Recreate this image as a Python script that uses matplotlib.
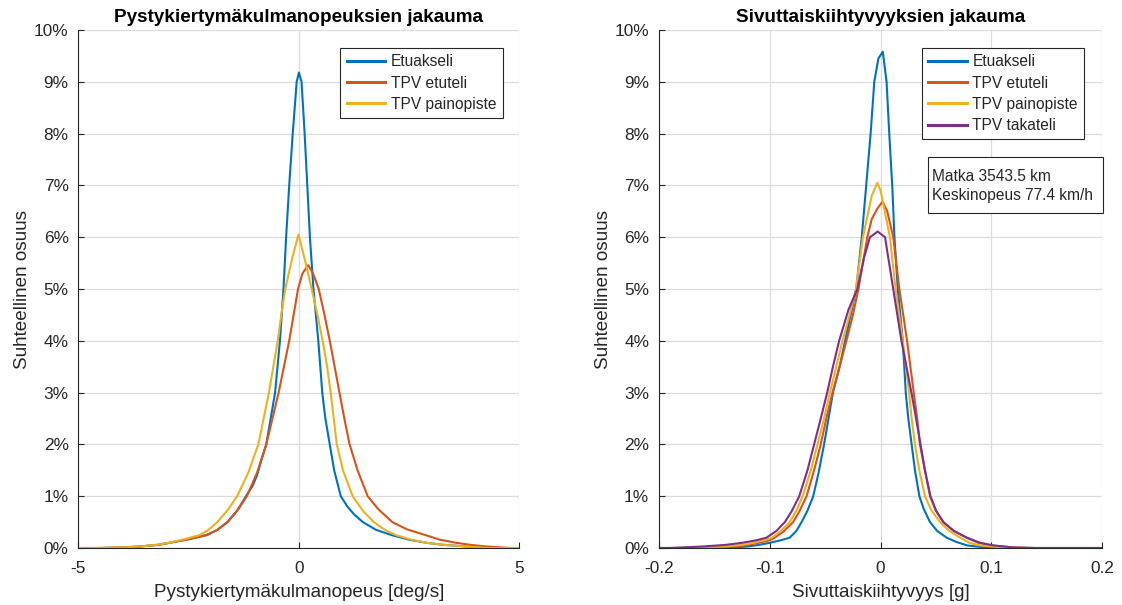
import matplotlib
matplotlib.use("Agg")
import matplotlib.pyplot as plt
from matplotlib.patches import Rectangle

plt.rcParams['font.family'] = ['Liberation Sans', 'DejaVu Sans']

# --- yaw rate distribution [deg/s] vs. share [%] ---
yaw_front_x = [-5, -4.5, -4.0, -3.6, -3.2, -2.93, -2.5, -2.1, -1.85, -1.62, -1.4, -1.2,
               -1.05, -0.95, -0.85, -0.74, -0.64, -0.54, -0.43, -0.35, -0.29, -0.22, -0.14,
               -0.05, 0.0, 0.06, 0.13, 0.19, 0.25, 0.33, 0.44, 0.53, 0.6, 0.70, 0.8, 0.95,
               1.1, 1.25, 1.45, 1.75, 2.1, 2.5, 2.9, 3.3, 3.8, 4.3, 5]
yaw_front_y = [0, 0, 0.01, 0.03, 0.06, 0.1, 0.17, 0.25, 0.35, 0.5, 0.72, 1.0,
               1.2, 1.4, 1.7, 2.0, 2.5, 3.0, 4.0, 5.0, 6.0, 7.0, 8.0,
               9.0, 9.18, 9.0, 8.0, 7.0, 6.0, 5.0, 4.0, 3.0, 2.5, 2.0, 1.5, 1.0,
               0.8, 0.65, 0.5, 0.35, 0.25, 0.16, 0.1, 0.06, 0.03, 0, 0]

yaw_bogie_x = [-5, -4.6, -4.0, -3.6, -3.2, -2.95, -2.5, -2.08, -1.85, -1.62, -1.4, -1.18,
               -0.95, -0.74, -0.6, -0.46, -0.34, -0.22, -0.12, -0.02, 0.08, 0.21, 0.32,
               0.45, 0.58, 0.70, 0.81, 0.92, 1.03, 1.15, 1.33, 1.56, 1.8, 2.12, 2.45, 2.87,
               3.2, 3.57, 3.9, 4.25, 4.8, 5]
yaw_bogie_y = [0, 0, 0.01, 0.03, 0.06, 0.1, 0.17, 0.25, 0.35, 0.5, 0.72, 1.0,
               1.45, 2.0, 2.5, 3.0, 3.5, 4.0, 4.5, 5.0, 5.3, 5.46, 5.3,
               5.0, 4.5, 4.0, 3.5, 3.0, 2.5, 2.0, 1.5, 1.0, 0.75, 0.5, 0.36, 0.25,
               0.16, 0.1, 0.06, 0.03, 0, 0]

yaw_cog_x = [-5, -4.6, -4.0, -3.6, -3.25, -2.95, -2.6, -2.25, -2.05, -1.85, -1.6, -1.4,
             -1.15, -0.92, -0.8, -0.68, -0.58, -0.48, -0.4, -0.31, -0.15, -0.01, 0.14,
             0.29, 0.42, 0.54, 0.64, 0.72, 0.79, 0.86, 1.0, 1.22, 1.45, 1.7, 1.95, 2.2,
             2.55, 2.9, 3.3, 3.8, 4.3, 5]
yaw_cog_y = [0, 0, 0.01, 0.03, 0.06, 0.1, 0.17, 0.25, 0.35, 0.5, 0.75, 1.0,
             1.45, 2.0, 2.5, 3.0, 3.5, 4.0, 4.5, 5.0, 5.6, 6.05, 5.55,
             5.0, 4.5, 4.0, 3.5, 3.0, 2.5, 2.0, 1.5, 1.0, 0.72, 0.5, 0.35, 0.25,
             0.16, 0.1, 0.06, 0.03, 0, 0]

# --- lateral acceleration distribution [g] vs. share [%] ---
lat_front_x = [-0.2, -0.16, -0.13, -0.12, -0.11, -0.10, -0.09, -0.082, -0.076, -0.0713,
               -0.066, -0.0608, -0.056, -0.051, -0.047, -0.043, -0.037, -0.032, -0.027,
               -0.022, -0.017, -0.013, -0.009, -0.0057, -0.002, 0.002, 0.0054, 0.0078,
               0.0105, 0.0125, 0.0155, 0.020, 0.0227, 0.025, 0.028, 0.031, 0.035, 0.039,
               0.0446, 0.051, 0.0596, 0.068, 0.078, 0.095, 0.12, 0.2]
lat_front_y = [0, 0, 0.015, 0.03, 0.06, 0.1, 0.15, 0.2, 0.33, 0.5,
               0.72, 1.0, 1.45, 2.0, 2.5, 3.0, 3.5, 4.0, 4.5,
               5.0, 6.0, 7.0, 8.0, 9.0, 9.45, 9.58, 9.0, 8.0,
               7.0, 6.0, 5.0, 4.0, 3.0, 2.5, 2.0, 1.5, 1.0, 0.75,
               0.5, 0.33, 0.2, 0.12, 0.05, 0.01, 0, 0]

lat_bogie_x = [-0.2, -0.17, -0.14, -0.13, -0.12, -0.11, -0.10, -0.0954, -0.087, -0.0789,
               -0.073, -0.0668, -0.06, -0.054, -0.049, -0.0434, -0.037, -0.0308, -0.025,
               -0.020, -0.012, -0.008, -0.003, 0.0018, 0.006, 0.0114, 0.0169, 0.0239,
               0.0299, 0.033, 0.0355, 0.04, 0.0446, 0.05, 0.0566, 0.066, 0.0777, 0.088,
               0.10, 0.12, 0.14, 0.2]
lat_bogie_y = [0, 0, 0.02, 0.03, 0.06, 0.1, 0.15, 0.2, 0.33, 0.5,
               0.72, 1.0, 1.5, 2.0, 2.5, 3.0, 3.5, 4.0, 4.5,
               5.0, 6.0, 6.35, 6.55, 6.69, 6.5, 6.0, 5.0, 4.0,
               3.0, 2.5, 2.0, 1.5, 1.0, 0.72, 0.5, 0.33, 0.2, 0.1,
               0.05, 0.01, 0, 0]

lat_cog_x = [-0.2, -0.18, -0.15, -0.14, -0.125, -0.115, -0.105, -0.098, -0.09, -0.082,
             -0.076, -0.0704, -0.063, -0.057, -0.051, -0.0458, -0.040, -0.0344, -0.028,
             -0.0223, -0.016, -0.008, -0.003, 0.0, 0.0084, 0.0135, 0.020, 0.0257, 0.028,
             0.031, 0.035, 0.040, 0.046, 0.0536, 0.062, 0.0717, 0.08, 0.0897, 0.11, 0.13, 0.2]
lat_cog_y = [0, 0, 0.02, 0.03, 0.06, 0.1, 0.15, 0.2, 0.33, 0.5,
             0.72, 1.0, 1.5, 2.0, 2.5, 3.0, 3.5, 4.0, 4.5,
             5.0, 6.0, 6.8, 7.05, 6.9, 6.0, 5.0, 4.0, 3.0, 2.5,
             2.0, 1.5, 1.0, 0.72, 0.5, 0.33, 0.2, 0.1, 0.05, 0.01, 0, 0]

lat_rear_x = [-0.2, -0.19, -0.17, -0.16, -0.14, -0.125, -0.112, -0.103, -0.094, -0.0864,
              -0.08, -0.0734, -0.066, -0.060, -0.054, -0.0482, -0.043, -0.0374, -0.029,
              -0.021, -0.015, -0.0096, -0.0027, 0.004, 0.0114, 0.0188, 0.0278, 0.032,
              0.036, 0.040, 0.045, 0.05, 0.0566, 0.066, 0.0777, 0.09, 0.1017, 0.12, 0.14, 0.2]
lat_rear_y = [0, 0, 0.02, 0.03, 0.06, 0.1, 0.15, 0.2, 0.33, 0.5,
              0.72, 1.0, 1.5, 2.0, 2.5, 3.0, 3.5, 4.0, 4.6,
              5.0, 5.6, 6.0, 6.11, 6.0, 5.0, 4.0, 3.0, 2.5,
              2.0, 1.5, 1.0, 0.72, 0.5, 0.33, 0.2, 0.1, 0.05, 0.01, 0, 0]

labels = ['Etuakseli', 'TPV etuteli', 'TPV painopiste', 'TPV takateli']
colors = ['#0072BD', '#D95319', '#EDB120', '#7E2F8E']
y_ticks = list(range(0, 11))
info_lines = ['Matka 3543.5 km', 'Keskinopeus 77.4 km/h']

TXT = '#262626'


def style_axes(ax, xlim, xticks, xticklabels):
    ax.set_xlim(*xlim)
    ax.set_ylim(0, 10)
    ax.set_xticks(xticks)
    ax.set_xticklabels(xticklabels)
    ax.set_yticks(y_ticks)
    ax.set_yticklabels([f'{v}%' for v in y_ticks])
    ax.grid(True, color='#dcdcdc', lw=0.9)
    ax.set_axisbelow(True)
    for side in ('top', 'right'):
        ax.spines[side].set_visible(False)
    for side in ('left', 'bottom'):
        ax.spines[side].set_color(TXT)
        ax.spines[side].set_linewidth(0.8)
        ax.spines[side].set_zorder(5)
    ax.tick_params(direction='in', length=4, width=0.8, color=TXT,
                   labelcolor=TXT, labelsize=12.4)
    ax.tick_params(axis='x', pad=9)
    ax.tick_params(axis='y', pad=7)
    ax.set_ylabel('Suhteellinen osuus', fontsize=13.6, color=TXT, labelpad=2)


def add_legend(ax, n, loc, anchor):
    leg = ax.legend(labels[:n], loc=loc, bbox_to_anchor=anchor,
                    fontsize=11.2, handlelength=2.5, handletextpad=0.35,
                    labelspacing=0.4, borderpad=0.4, borderaxespad=0,
                    frameon=True, fancybox=False, framealpha=1)
    leg.get_frame().set_edgecolor(TXT)
    leg.get_frame().set_linewidth(0.8)
    for t in leg.get_texts():
        t.set_color(TXT)
    for h in leg.get_lines():
        h.set_linewidth(2.2)


fig = plt.figure(figsize=(11.22, 6.05), dpi=100)
ax1 = fig.add_axes([0.0699, 0.0942, 0.3930, 0.8562])
ax2 = fig.add_axes([0.5873, 0.0942, 0.3951, 0.8562])

# Left: yaw rate
for xs, ys, c in zip([yaw_front_x, yaw_bogie_x, yaw_cog_x],
                     [yaw_front_y, yaw_bogie_y, yaw_cog_y], colors):
    ax1.plot(xs, ys, color=c, lw=1.5)
style_axes(ax1, (-5, 5), [-5, 0, 5], ['-5', '0', '5'])
ax1.set_title('Pystykiertymäkulmanopeuksien jakauma', fontsize=13.6,
              fontweight='bold', color='black', pad=6)
ax1.set_xlabel('Pystykiertymäkulmanopeus [deg/s]', fontsize=13.6, color=TXT, labelpad=6)
add_legend(ax1, 3, 'upper right', (0.962, 0.965))

# Right: lateral acceleration
for xs, ys, c in zip([lat_front_x, lat_bogie_x, lat_cog_x, lat_rear_x],
                     [lat_front_y, lat_bogie_y, lat_cog_y, lat_rear_y], colors):
    ax2.plot(xs, ys, color=c, lw=1.5)
style_axes(ax2, (-0.2, 0.2), [-0.2, -0.1, 0, 0.1, 0.2], ['-0.2', '-0.1', '0', '0.1', '0.2'])
ax2.set_title('Sivuttaiskiihtyvyyksien jakauma', fontsize=13.6,
              fontweight='bold', color='black', pad=6)
ax2.set_xlabel('Sivuttaiskiihtyvyys [g]', fontsize=13.6, color=TXT, labelpad=6)
add_legend(ax2, 4, 'upper left', (0.593, 0.965))

# info box with trip length and mean speed
ax2.add_patch(Rectangle((0.6077, 0.6473), 0.3934, 0.1069, transform=ax2.transAxes,
                        fc='white', ec=TXT, lw=0.8, zorder=10, clip_on=False))
for line, yy in zip(info_lines, [0.7166, 0.6799]):
    ax2.text(0.6168, yy, line, transform=ax2.transAxes, ha='left', va='center',
             fontsize=11.2, color=TXT, zorder=11)

fig.savefig('out.png', dpi=100)
